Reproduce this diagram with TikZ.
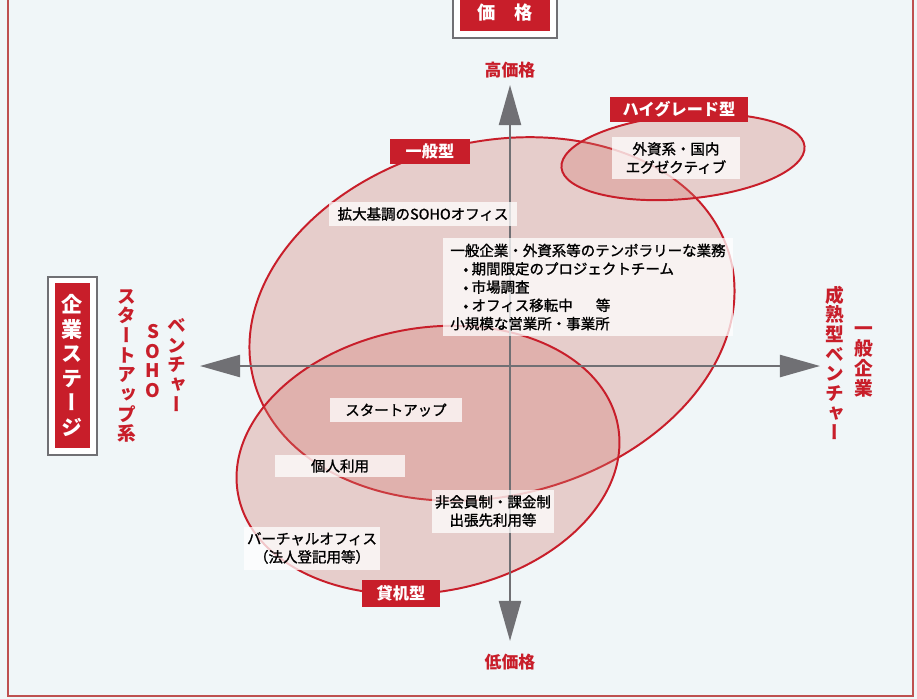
\documentclass[tikz,border=0pt]{standalone}
\usepackage{fontspec}
\setmainfont{Noto Sans CJK JP}[UprightFeatures={RawFeature={embolden=1.3}}]
\newfontfamily\tatefont{Noto Sans CJK JP}[RawFeature=+vert]
\usetikzlibrary{arrows.meta}

\definecolor{kred}{RGB}{200,30,42}
\definecolor{kbg}{RGB}{240,246,248}
\definecolor{kgray}{RGB}{112,112,116}
\definecolor{kpink}{RGB}{212,120,110}
\definecolor{kframe}{RGB}{190,80,80}

\tikzset{
  lbl/.style={fill=kred, text=white, inner sep=0pt,
    font=\bfseries\fontsize{11.5}{12}\selectfont},
  lblframe/.style={draw=kgray, fill=white, line width=0.8pt, inner sep=0pt},
  txtbox/.style={fill=white, fill opacity=0.75, text opacity=1, inner sep=2pt,
    align=center, font=\fontsize{10.3}{13}\selectfont},
  zone/.style={draw=kred, line width=1.4pt, fill=kpink, fill opacity=0.32},
  axis/.style={kgray, line width=1.6pt,
    {Triangle[length=1cm,width=0.55cm]}-{Triangle[length=1cm,width=0.55cm]}},
  axislbl/.style={text=kred, font=\bfseries\fontsize{12}{13}\selectfont},
  tate/.style={text=kred, align=center, inner sep=0pt,
    font=\tatefont\bfseries\fontsize{13.3}{14}\selectfont},
}

\begin{document}
\begin{tikzpicture}[x=0.025cm, y=-0.025cm]
    \useasboundingbox (0,0) rectangle (917,699);
    \fill[kbg] (0,0) rectangle (917,699);
    \draw[kframe, line width=1pt] (8,-10) -- (8,696) -- (913,696) -- (913,-10);

    % Zones
    \draw[zone, rotate around={14:(492,319)}] (492,319) ellipse [x radius=246, y radius=177];
    \draw[zone, rotate around={5:(683,157)}] (683,157) ellipse [x radius=122, y radius=42];
    \draw[zone, rotate around={10:(428,460)}] (428,460) ellipse [x radius=193, y radius=132];

    % Axes
    \coordinate (high) at (510,85);
    \coordinate (low) at (510,641);
    \coordinate (west) at (200,366);
    \coordinate (east) at (820,366);
    \draw[axis] (low) -- (high);
    \draw[axis] (west) -- (east);

    \node[axislbl] (highlbl) at (510,70) {高価格};
    \node[axislbl] (lowlbl) at (510,662) {低価格};

    % Price title
    \node[lblframe, minimum width=2.6cm, minimum height=1.075cm] (priceframe) at (505,16.5) {};
    \node[lbl, minimum width=2.25cm, minimum height=0.9cm,
      font=\bfseries\fontsize{13}{14}\selectfont] (price) at (505,13) {価　格};

    % Company stage
    \node[lblframe, minimum width=1.225cm, minimum height=4.45cm] (stageframe) at (72.5,366) {};
    \node[lbl, minimum width=0.875cm, minimum height=4.125cm, align=center,
      font=\tatefont\bfseries\fontsize{15}{17.5}\selectfont] (stage) at (72.5,365.5)
      {企\\業\\ス\\テ\\ー\\ジ};

    \node[tate] (startkei) at (127,366) {ス\\タ\\ー\\ト\\ア\\ッ\\プ\\系};
    \node[tate] (soho) at (153,361) {S\\O\\H\\O};
    \node[tate] (venture) at (177,365) {ベ\\ン\\チ\\ャ\\ー};

    \node[tate] (seijuku) at (835,363) {成\\熟\\型\\ベ\\ン\\チ\\ャ\\ー};
    \node[tate] (ippankigyo) at (864,362) {一\\般\\企\\業};

    % Text boxes
    \node[txtbox, minimum width=3.175cm, minimum height=1.025cm] (gaishi) at (676,158)
      {外資系・国内\\エグゼクティブ};
    \node[txtbox, minimum width=4.675cm, minimum height=0.6cm] (kakudai) at (423,214)
      {拡大基調のSOHOオフィス};
    \node[txtbox, align=left, minimum width=7.25cm, minimum height=2.425cm] (temp) at (588,287)
      {一般企業・外資系等のテンポラリーな業務\\
       \hspace{0.9em}• 期間限定のプロジェクトチーム\\
       \hspace{0.9em}• 市場調査\\
       \hspace{0.9em}• オフィス移転中\hspace{1.6em}等\\
       小規模な営業所・事業所};
    \node[txtbox, minimum width=3.3cm, minimum height=0.6cm] (startup) at (396,410) {スタートアップ};
    \node[txtbox, minimum width=3.25cm, minimum height=0.55cm] (kojin) at (340,466) {個人利用};
    \node[txtbox, minimum width=3cm, minimum height=1.075cm] (hikaiin) at (493,511)
      {非会員制・課金制\\出張先利用等};
    \node[txtbox, minimum width=3.25cm, minimum height=1.075cm] (virtual) at (312,548)
      {バーチャルオフィス\\（法人登記用等）};

    % Zone labels
    \node[lbl, minimum width=2cm, minimum height=0.625cm] (ippan) at (430,151) {一般型};
    \node[lbl, minimum width=3.45cm, minimum height=0.625cm] (highgrade) at (679,109) {ハイグレード型};
    \node[lbl, minimum width=1.925cm, minimum height=0.675cm] (kashi) at (401,593) {貸机型};
\end{tikzpicture}
\end{document}
